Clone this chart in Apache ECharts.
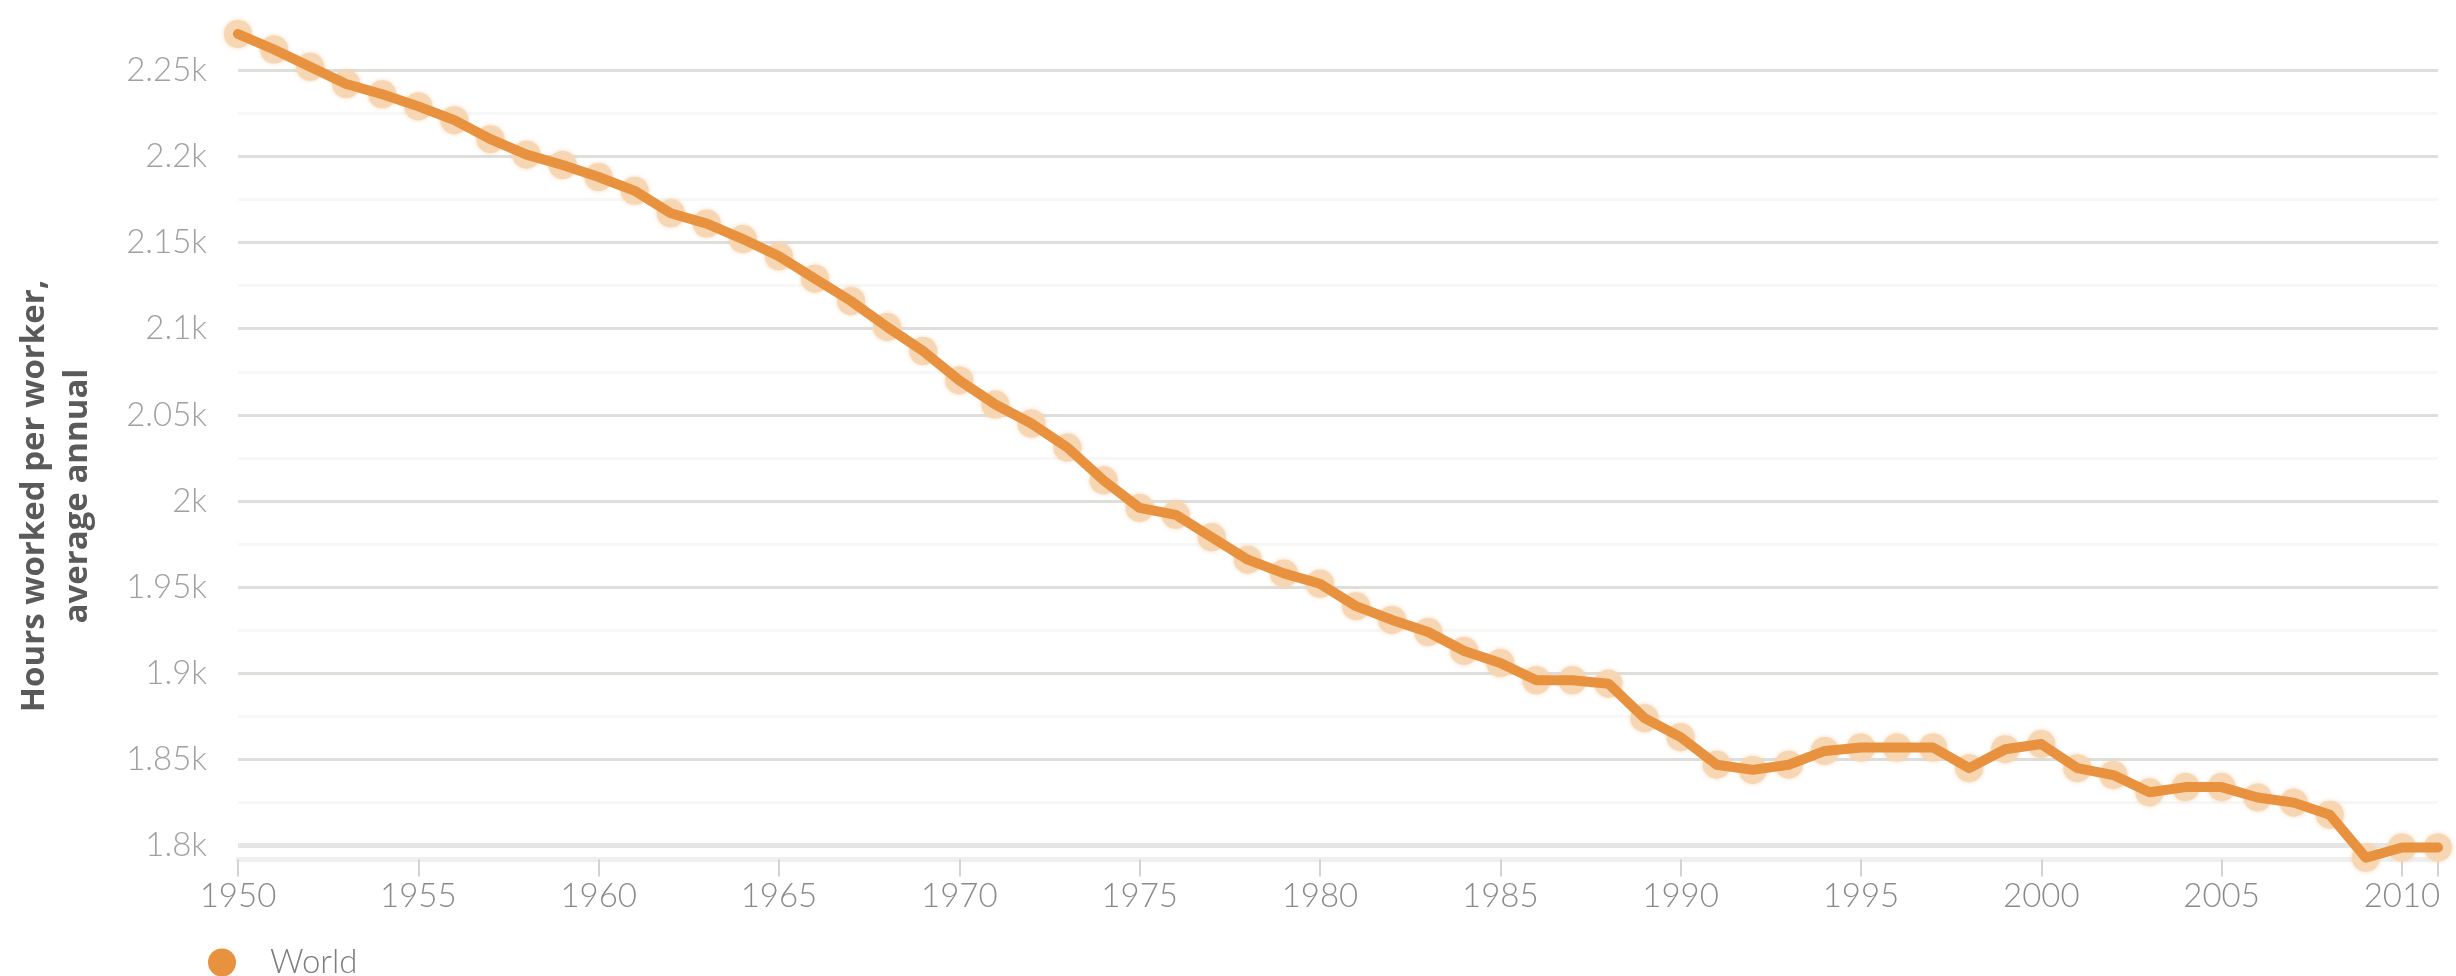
<!DOCTYPE html>
<html>
<head>
<meta charset="utf-8">
<script src="https://cdn.jsdelivr.net/npm/echarts@6/dist/echarts.min.js"></script>
<style>
  html, body { margin: 0; padding: 0; background: #ffffff; }
  #chart { width: 2456px; height: 976px; }
</style>
</head>
<body>
<div id="chart"></div>
<script>
// ---- Data ----
const years = [
  1950, 1951, 1952, 1953, 1954, 1955, 1956, 1957, 1958, 1959,
  1960, 1961, 1962, 1963, 1964, 1965, 1966, 1967, 1968, 1969,
  1970, 1971, 1972, 1973, 1974, 1975, 1976, 1977, 1978, 1979,
  1980, 1981, 1982, 1983, 1984, 1985, 1986, 1987, 1988, 1989,
  1990, 1991, 1992, 1993, 1994, 1995, 1996, 1997, 1998, 1999,
  2000, 2001, 2002, 2003, 2004, 2005, 2006, 2007, 2008, 2009,
  2010, 2011
];
const worldHours = [
  2271, 2262, 2252, 2242, 2236, 2229, 2221, 2210, 2201, 2195,
  2188, 2180, 2167, 2161, 2152, 2142, 2129, 2116, 2101, 2087,
  2070, 2056, 2045, 2031, 2012, 1996, 1992, 1979, 1966, 1958,
  1952, 1939, 1931, 1924, 1913, 1906, 1896, 1896, 1894, 1874,
  1863, 1847, 1844, 1847, 1855, 1857, 1857, 1857, 1845, 1856,
  1859, 1845, 1841, 1831, 1834, 1834, 1828, 1825, 1818, 1793,
  1799, 1799
];
const seriesName = 'World';
const yTickValues = [1800, 1850, 1900, 1950, 2000, 2050, 2100, 2150, 2200, 2250];
const yMinorValues = [1825, 1875, 1925, 1975, 2025, 2075, 2125, 2175, 2225];
const xLabelValues = [1950, 1955, 1960, 1965, 1970, 1975, 1980, 1985, 1990, 1995, 2000, 2005, 2010];
const xTickValues = [1950, 1955, 1960, 1965, 1970, 1975, 1980, 1985, 1990, 1995, 2000, 2005, 2010, 2011];
const yTitle = 'Hours worked per worker,\naverage annual';

// ---- Chart ----
const points = years.map((y, i) => [y, worldHours[i]]);
const FONT = 'Lato, "Open Sans", sans-serif';

const chart = echarts.init(document.getElementById('chart'), null, { renderer: 'canvas' });
chart.setOption({
  backgroundColor: '#ffffff',
  animation: false,
  grid: { left: 238, right: 18, top: 34, bottom: 116.5, containLabel: false },
  xAxis: {
    type: 'value',
    min: 1950,
    max: 2011,
    interval: 5,
    axisLine: { show: true, lineStyle: { color: '#efefed', width: 5 } },
    axisTick: { show: true, length: 17, lineStyle: { color: '#d3d3d3', width: 2 }, customValues: xTickValues },
    axisLabel: {
      customValues: xLabelValues,
      margin: 20,
      color: '#8a8a8a',
      fontFamily: FONT,
      fontWeight: 300,
      fontSize: 33,
      formatter: v => String(v)
    },
    splitLine: { show: false }
  },
  yAxis: [
    {
      type: 'value',
      min: 1792,
      max: 2271,
      axisLine: { show: false },
      axisTick: { show: false, customValues: yTickValues },
      axisLabel: {
        customValues: yTickValues,
        margin: 31,
        color: '#a0a0a0',
        fontFamily: FONT,
        fontWeight: 300,
        fontSize: 33,
        formatter: v => (v / 1000) + 'k'
      },
      splitLine: { show: true, lineStyle: { color: '#dededb', width: 3 } }
    },
    {
      type: 'value',
      min: 1792,
      max: 2271,
      axisLine: { show: false },
      axisTick: { show: false, customValues: yMinorValues },
      axisLabel: { show: false },
      splitLine: { show: true, lineStyle: { color: '#f7f7f5', width: 3 } }
    }
  ],
  legend: {
    left: 208,
    top: 946,
    padding: 0,
    itemWidth: 28,
    itemHeight: 28,
    data: [{ name: seriesName, icon: 'circle', itemStyle: { color: '#E8913E', opacity: 1 } }],
    textStyle: { color: '#7d7d7d', fontFamily: FONT, fontWeight: 300, fontSize: 33, padding: [0, 0, 0, 29] }
  },
  graphic: [
    {
      type: 'text',
      x: 56,
      y: 496,
      rotation: Math.PI / 2,
      style: {
        text: yTitle,
        align: 'center',
        verticalAlign: 'middle',
        lineHeight: 43,
        fill: '#5a5a5a',
        font: 'bold 33px "Open Sans", sans-serif'
      }
    }
  ],
  series: [
    {
      name: seriesName,
      type: 'scatter',
      data: points,
      symbol: 'circle',
      symbolSize: 28,
      itemStyle: { color: '#F7D6B3', opacity: 1, shadowBlur: 4, shadowColor: 'rgba(245,205,165,0.8)' },
      z: 2,
      silent: true,
      markLine: {
        silent: true,
        z: 1,
        symbol: 'none',
        label: { show: false },
        lineStyle: { color: '#e6e6e4', width: 5, type: 'solid' },
        data: [{ yAxis: yTickValues[0] }]
      }
    },
    {
      name: seriesName,
      type: 'line',
      data: points,
      showSymbol: false,
      lineStyle: { color: '#E8923F', width: 10, join: 'round', cap: 'round' },
      itemStyle: { color: '#E8923F' },
      z: 3
    }
  ]
});
</script>
</body>
</html>
